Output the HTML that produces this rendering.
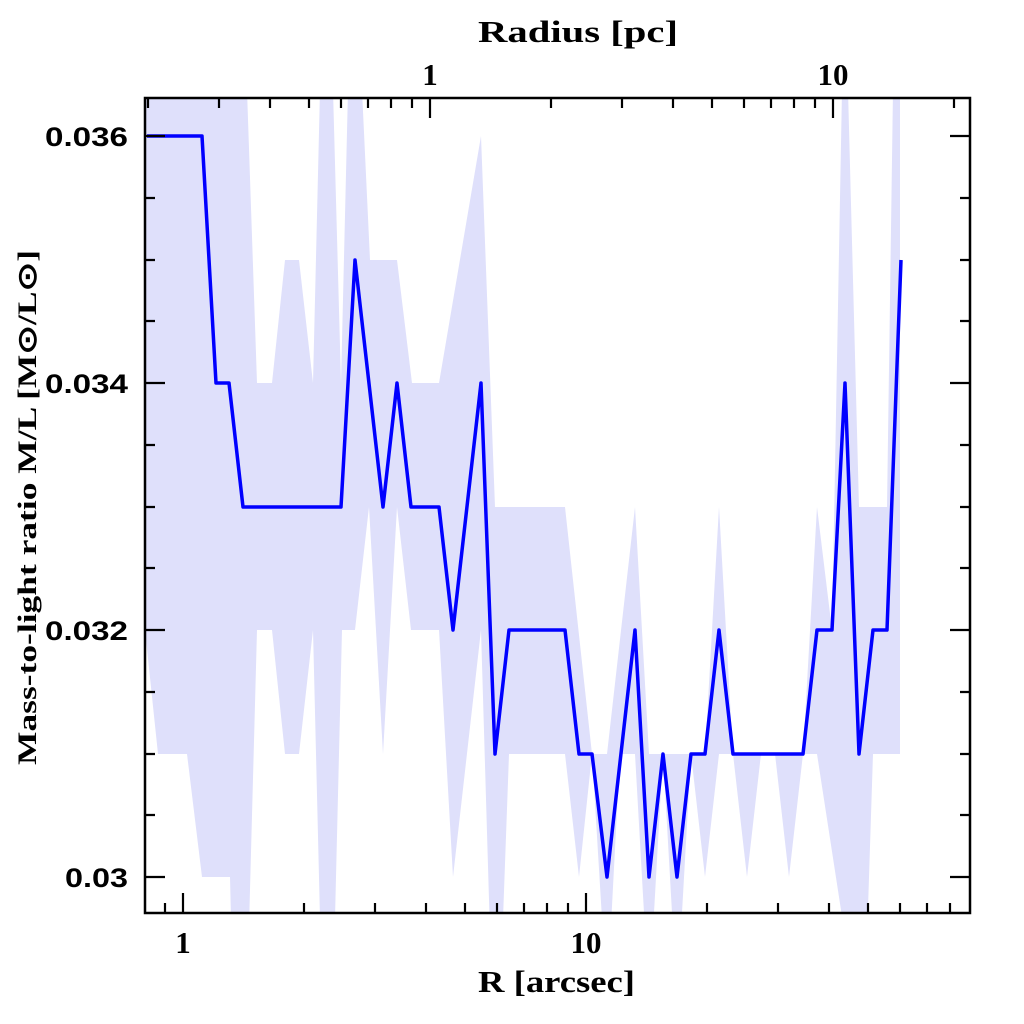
<!DOCTYPE html>
<html><head><meta charset="utf-8"><style>
body{margin:0;background:#fff}
svg{display:block}
.t{font-family:"Liberation Sans",sans-serif;font-weight:bold;font-size:27px;fill:#000}
.s{font-family:"Liberation Serif",serif;font-weight:bold;font-size:31px;fill:#000}
</style></head><body>
<svg width="1024" height="1024" viewBox="0 0 1024 1024" xmlns="http://www.w3.org/2000/svg">
<defs><clipPath id="c"><rect x="145" y="98" width="825" height="815"/></clipPath></defs>
<g clip-path="url(#c)">
<polygon fill="#dfe0fb" points="145,90 247,90 257,383 272,383 285,260 299,260 313,383 320,90 333,90 341,383 348,90 362,90 370,260 397,260 412,383 439,383 481,136 495,507 565,507 592,754 607,754 635,507 649,754 705,754 719,507 733,754 803,754 817,507 832,630 842,90 848,90 859,507 887,507 893,90 900,90 900,754 873,754 865,1001 855,1001 817,754 803,754 789,877 775,754 761,754 747,877 733,754 719,754 705,877 691,754 677,1001 663,754 649,1001 635,754 620,754 607,1001 592,754 579,877 565,754 509,754 500,1001 492,1001 481,630 453,877 439,630 411,630 397,507 383,754 369,507 355,630 342,630 333,1001 322,1001 313,630 299,754 285,754 272,630 257,630 247,1001 233,1001 230,877 202,877 187,754 158,754 145,630"/>
<polyline fill="none" stroke="#0000ff" stroke-width="3.5" stroke-linejoin="round" points="147,136 202,136 216,383 229,383 243,507 341,507 355,260 383,507 397,383 411,507 439,507 453,630 481,383 495,754 509,630 565,630 579,754 592,754 607,877 635,630 649,877 663,754 677,877 691,754 705,754 719,630 733,754 803,754 817,630 832,630 845,383 859,754 873,630 887,630 901,260"/>
</g>
<rect x="145" y="98" width="825" height="815" fill="none" stroke="#000" stroke-width="2.5"/>
<g stroke="#000" stroke-width="2.2">
<path d="M145,136h20M970,136h-20M145,383h20M970,383h-20M145,630h20M970,630h-20M145,877h20M970,877h-20
M145,198h10M970,198h-10M145,260h10M970,260h-10M145,321h10M970,321h-10M145,445h10M970,445h-10M145,507h10M970,507h-10M145,568h10M970,568h-10M145,692h10M970,692h-10M145,754h10M970,754h-10M145,815h10M970,815h-10"/>
<path d="M183,913v-20M586,913v-20M165,913v-10M304,913v-10M375,913v-10M426,913v-10M465,913v-10M497,913v-10M524,913v-10M547,913v-10M568,913v-10M707,913v-10M778,913v-10M829,913v-10M868,913v-10M900,913v-10M927,913v-10M950,913v-10"/>
<path d="M430,98v20M833,98v20M148,98v10M219,98v10M270,98v10M309,98v10M341,98v10M368,98v10M391,98v10M412,98v10M551,98v10M622,98v10M673,98v10M712,98v10M744,98v10M771,98v10M794,98v10M815,98v10M954,98v10"/>
</g>
<text class="t" x="45" y="146" textLength="83" lengthAdjust="spacingAndGlyphs">0.036</text>
<text class="t" x="45" y="393" textLength="83" lengthAdjust="spacingAndGlyphs">0.034</text>
<text class="t" x="45" y="640" textLength="83" lengthAdjust="spacingAndGlyphs">0.032</text>
<text class="t" x="65" y="887" textLength="63" lengthAdjust="spacingAndGlyphs">0.03</text>
<text class="s" x="183" y="953" text-anchor="middle">1</text>
<text class="s" x="586" y="953" text-anchor="middle">10</text>
<text class="s" x="478" y="992" textLength="157" lengthAdjust="spacingAndGlyphs">R [arcsec]</text>
<text class="s" x="430" y="85" text-anchor="middle">1</text>
<text class="s" x="833" y="85" text-anchor="middle">10</text>
<text class="s" x="478" y="42" textLength="200" lengthAdjust="spacingAndGlyphs">Radius [pc]</text>
<text class="s" transform="translate(36,765) rotate(-90)" textLength="515" lengthAdjust="spacingAndGlyphs" style="font-size:26px">Mass-to-light ratio M/L [M⊙/L⊙]</text>
</svg>
</body></html>
